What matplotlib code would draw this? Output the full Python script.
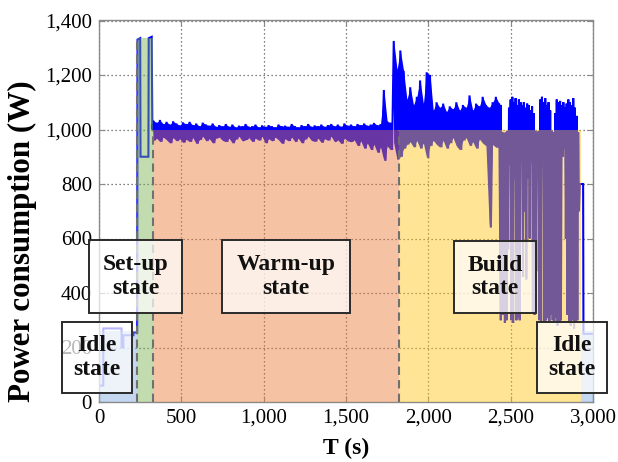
import numpy as np
import matplotlib
matplotlib.use("Agg")
import matplotlib.pyplot as plt
from matplotlib.patches import Rectangle

# ---------------- data ----------------
# idle at the start (explicit points)
idle1_t = [0, 26, 26, 137, 137, 148, 148, 209, 209, 230]
idle1_p = [60, 60, 270, 270, 200, 200, 245, 245, 255, 255]

# set-up spikes (explicit points)
setup_t = [232, 234, 250, 252, 300, 302, 320, 324]
setup_p = [255, 1330, 1335, 900, 900, 1335, 1340, 1000]

# warm-up: upper / lower readings per 20 s bin starting at 330 s
warm_t0, warm_step = 330, 20
warm_hi = [1032, 1025, 1035, 1020, 1028, 1018, 1030, 1022, 1015, 1026,
           1020, 1028, 1016, 1022, 1012, 1025, 1018, 1014, 1022, 1010,
           1016, 1012, 1020, 1010, 1018, 1008, 1014, 1012, 1020, 1010,
           1012, 1018, 1008, 1015, 1010, 1016, 1012, 1008, 1018, 1012,
           1014, 1010, 1020, 1012, 1008, 1016, 1012, 1020, 1010, 1015,
           1012, 1018, 1010, 1016, 1020, 1012, 1018, 1010, 1022, 1014,
           1018, 1012, 1020, 1016, 1022, 1014, 1018, 1024, 1016, 1020,
           1145, 1030, 1025]
warm_lo = [960, 968, 955, 972, 962, 950, 970, 958, 966, 952,
           964, 955, 970, 948, 962, 975, 958, 966, 950, 968,
           972, 960, 955, 968, 950, 964, 975, 958, 962, 970,
           955, 968, 960, 975, 950, 966, 958, 972, 962, 948,
           966, 958, 972, 955, 968, 950, 964, 975, 960, 956,
           968, 952, 966, 960, 975, 955, 962, 948, 968, 958,
           955, 962, 940, 958, 930, 950, 925, 945, 915, 935,
           885, 940, 925]

# early build: upper / lower readings per 20 s bin starting at 1790 s
build1_t0, build1_step = 1790, 20
build1_hi = [1325, 1220, 1290, 1215, 1110, 1155, 1090, 1120, 1180, 1095,
             1210, 1200, 1070, 1100, 1080, 1095, 1065, 1085, 1075, 1100,
             1070, 1090, 1080, 1125, 1070, 1095, 1085, 1120, 1090, 1080,
             1100, 1120, 1095]
build1_lo = [950, 890, 900, 930, 945, 955, 935, 960, 930, 950,
             895, 940, 960, 945, 935, 960, 930, 950, 970, 940,
             925, 960, 970, 940, 955, 930, 965, 950, 940, 640,
             945, 935, 300]

# late build: upper / lower readings per 10 s bin starting at 2440 s
build2_t0, build2_step = 2440, 10
build2_hi = [1090, 990, 985, 990, 995, 1080, 1110, 1120, 1100, 1115,
             1090, 1110, 1100, 1090, 1100, 1080, 1095, 1090, 1070, 1085,
             1060, 995, 990, 995, 1110, 1120, 1100, 1115, 1090, 1100,
             1070, 995, 990, 1060, 1110, 1100, 1105, 1090, 1100, 1080,
             1095, 1110, 1100, 1090, 1115, 1080, 1050, 990, 800]
build2_lo = [720, 320, 290, 300, 560, 870, 300, 290, 820, 300,
             310, 300, 880, 460, 700, 450, 820, 600, 880, 330,
             320, 480, 900, 300, 290, 920, 290, 300, 310, 290,
             320, 300, 290, 310, 280, 290, 300, 900, 930, 600,
             320, 290, 280, 300, 270, 290, 300, 700, 800]

# idle at the end (explicit points)
idle2_t = [2930, 2940, 2942, 3000]
idle2_p = [800, 800, 250, 250]

# states (background areas)
state_names = ["Idle\nstate", "Set-up\nstate", "Warm-up\nstate", "Build\nstate", "Idle\nstate"]
state_start = [0, 230, 325, 1820, 2925]
state_end = [230, 325, 1820, 2925, 3000]
state_level = [260, 1335, 1000, 1000, 260]
state_colors = ["#7aa7de", "#7ab24e", "#e97a37", "#ffc416", "#7aa7de"]
boundaries = [230, 325, 1820]
boundary_top = [1335, 1000, 1000]

x_ticks = [0, 500, 1000, 1500, 2000, 2500, 3000]
x_ticklabels = ["0", "500", "1,000", "1,500", "2,000", "2,500", "3,000"]
y_ticks = [0, 200, 400, 600, 800, 1000, 1200, 1400]
y_ticklabels = ["0", "200", "400", "600", "800", "1,000", "1,200", "1,400"]


def zigzag(t0, step, hi, lo):
    t = t0 + step * np.arange(len(hi))
    tt = np.column_stack([t, t + step / 2.0]).ravel()
    pp = np.column_stack([hi, lo]).ravel()
    return tt, pp


segs_t, segs_p = [np.array(idle1_t, float), np.array(setup_t, float)], \
                 [np.array(idle1_p, float), np.array(setup_p, float)]
for (t0, st, hi, lo) in [(warm_t0, warm_step, warm_hi, warm_lo),
                         (build1_t0, build1_step, build1_hi, build1_lo),
                         (build2_t0, build2_step, build2_hi, build2_lo)]:
    a, b = zigzag(t0, st, hi, lo)
    segs_t.append(a)
    segs_p.append(b)
segs_t.append(np.array(idle2_t, float))
segs_p.append(np.array(idle2_p, float))
T = np.concatenate(segs_t)
P = np.concatenate(segs_p)

# ---------------- figure ----------------
W, H = 618, 462
fig = plt.figure(figsize=(W / 100, H / 100), dpi=100)
ax = fig.add_axes([99 / W, 1 - 402 / H, (593 - 99) / W, (402 - 20.5) / H])

serif = ["Liberation Serif", "DejaVu Serif"]

# dense band of the fast-oscillating signal (between the readings)
for (t0, st, hi, lo) in [(warm_t0, warm_step, warm_hi, warm_lo),
                         (build1_t0, build1_step, build1_hi, build1_lo[:-1] + [build1_lo[-2]])]:
    tb = t0 + st * np.arange(len(hi))
    ax.fill_between(tb, lo, hi, color="#0000ff", lw=0, zorder=2)

ax.plot(T, P, color="#0000ff", lw=1.5, zorder=2, solid_joinstyle="miter")

for s, e, lv, c in zip(state_start, state_end, state_level, state_colors):
    ax.fill_between([s, e], [0, 0], [lv, lv], color=c, alpha=0.45, lw=0, zorder=3)

for b, top in zip(boundaries, boundary_top):
    ax.plot([b, b], [0, top], color="#707070", lw=1.5, ls=(0, (4, 2.5)), zorder=4)

ax.set_xlim(0, 3000)
ax.set_ylim(0, 1400)
ax.set_xticks(x_ticks)
ax.set_xticklabels(x_ticklabels)
ax.set_yticks(y_ticks)
ax.set_yticklabels(y_ticklabels)
ax.grid(True, color="#555555", lw=0.9, ls=(0, (1, 2.2)))
ax.set_axisbelow(True)
ax.tick_params(direction="in", length=4, color="#888888", top=True, right=True,
               labelsize=15, pad=5)
for lab in ax.get_xticklabels() + ax.get_yticklabels():
    lab.set_family(serif)
for sp in ax.spines.values():
    sp.set_color("#8a8a8a")
    sp.set_linewidth(1.0)

ax.set_xlabel("T (s)", fontsize=17, fontweight="bold", family=serif, labelpad=7)
fig.text(22 / W, 1 - 241 / H, "Power consumption (W)", rotation=90, ha="center", va="center",
         fontsize=22.3, fontweight="bold", family=serif)

# state boxes (pixel positions in the figure)
box_px = [(62, 322, 132, 393), (89, 240, 182, 313), (222, 240, 350, 313),
          (454, 241, 536, 313), (537, 322, 607, 393)]
for name, (x0, y0, x1, y1) in zip(state_names, box_px):
    rect = Rectangle((x0 / W, 1 - y1 / H), (x1 - x0) / W, (y1 - y0) / H,
                     transform=fig.transFigure, facecolor=(1, 1, 1, 0.72),
                     edgecolor="#2a2a2a", lw=1.4, zorder=10)
    fig.add_artist(rect)
    fig.text((x0 + x1) / 2 / W, 1 - (y0 + y1) / 2 / H, name, ha="center", va="center",
             fontsize=17, fontweight="bold", family=serif, linespacing=1.15,
             color="#111111", zorder=11)

fig.savefig("out.png", dpi=100)
